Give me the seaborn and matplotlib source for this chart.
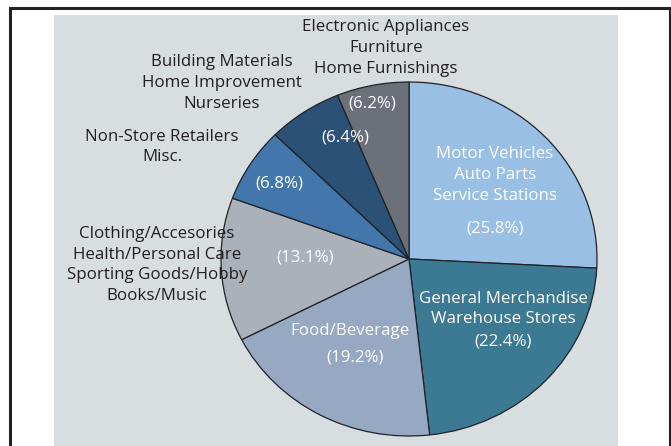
import matplotlib
matplotlib.use("Agg")
import matplotlib.pyplot as plt
from matplotlib.patches import Rectangle
import seaborn as sns

# Retail sales share by store category (clockwise from the top)
categories = [
    "Motor Vehicles\nAuto Parts\nService Stations",
    "General Merchandise\nWarehouse Stores",
    "Food/Beverage",
    "Clothing/Accesories\nHealth/Personal Care\nSporting Goods/Hobby\nBooks/Music",
    "Non-Store Retailers\nMisc.",
    "Building Materials\nHome Improvement\nNurseries",
    "Electronic Appliances\nFurniture\nHome Furnishings",
]
shares = [25.8, 22.4, 19.2, 13.1, 6.8, 6.4, 6.2]
colors = ["#99bfe5", "#3b7a92", "#97a8c3", "#aab1b8", "#4376ab", "#2b5177", "#6b7079"]

sns.set_theme(style="white")
plt.rcParams["font.family"] = ["Open Sans", "DejaVu Sans"]

W, H = 671, 446
fig = plt.figure(figsize=(W / 100, H / 100), dpi=100)


def fx(px):
    return px / W


def fy(py):
    return 1 - py / H


# outer frame and grey panel
fig.patches.append(Rectangle((fx(9.5), fy(470)), fx(669.5) - fx(9.5), fy(8) - fy(470),
                             transform=fig.transFigure, fill=False,
                             edgecolor="#222222", linewidth=2.2, zorder=-2))
fig.patches.append(Rectangle((fx(54), fy(470)), fx(618) - fx(54), fy(15) - fy(470),
                             transform=fig.transFigure, facecolor="#d8dde0",
                             edgecolor="none", zorder=-2))

# pie drawn in an axes spanning the (slightly flattened) pie's bounding box
left, right, top, bottom = 221, 597, 82, 436
ax = fig.add_axes([fx(left), fy(bottom), fx(right) - fx(left), fy(top) - fy(bottom)])
ax.set_zorder(1)
ax.pie(shares, colors=colors, startangle=90, counterclock=False, radius=1,
       wedgeprops=dict(edgecolor="#1e2328", linewidth=0.9))
ax.set_xlim(-1, 1)
ax.set_ylim(-1, 1)
ax.set_aspect("auto")
ax.axis("off")

pct = [f"({v:.1f}%)" for v in shares]
fs = 12.2
lsp = 1.4


def label(x, y, s, color):
    fig.text(fx(x), fy(y), s, ha="center", va="center", fontsize=fs,
             color=color, linespacing=lsp, zorder=5)


white = "white"
dark = "#231f20"

# inside labels
label(495, 175, categories[0], white)
label(495, 228, pct[0], white)
label(503, 309, categories[1], white)
label(503, 342, pct[1], white)
label(350, 331, categories[2], white)
label(355, 358, pct[2], white)
label(305, 257, pct[3], white)
label(279, 183, pct[4], white)
label(345, 137, pct[5], white)
label(372, 103, pct[6], white)

# outside labels
label(157, 265, categories[3], dark)
label(162, 147, categories[4], dark)
label(222, 83, categories[5], dark)
label(386, 48, categories[6], dark)

fig.savefig("out.png", dpi=100)
